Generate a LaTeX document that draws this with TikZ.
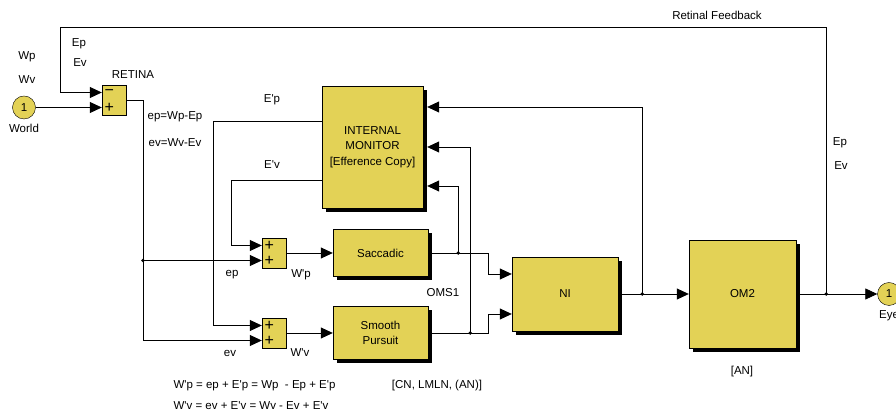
\documentclass[tikz,border=0pt]{standalone}
\usepackage{fontspec}
\setmainfont{Liberation Sans}[Ligatures=TeXOff]
\usepackage{xcolor}
\usetikzlibrary{arrows.meta, positioning, calc, shadows}
\definecolor{simyellow}{RGB}{227,210,86}

\begin{document}
\begin{tikzpicture}[
x=1pt, y=1pt,
font=\fontsize{11.5}{15.5}\selectfont,
block/.style={rectangle, draw, fill=simyellow, align=center, inner sep=0pt, drop shadow={fill=black, opacity=1, shadow xshift=4pt, shadow yshift=-4pt}},
sumblk/.style={rectangle, draw, fill=simyellow, minimum width=24pt, minimum height=30pt, inner sep=0pt},
port/.style={circle, draw, fill=simyellow, minimum size=23pt, inner sep=0pt},
sign/.style={inner sep=0pt, font=\fontsize{16}{16}\selectfont},
arrow/.style={-{Triangle[length=12pt, width=11pt]}, line width=0.8pt},
wire/.style={line width=0.8pt}
]
\useasboundingbox (0,0) rectangle (896,414);

\node[port] (world) at (24,306.5) {1};
\node[below=1pt of world] (worldlbl) {World};
\node[sumblk] (retina) at (114,314) {};
\node[sumblk] (sum1) at (274,161) {};
\node[sumblk] (sum2) at (274,81) {};

\node[block, minimum width=101pt, minimum height=122pt] (im) at (372.5,267) {INTERNAL\\MONITOR\\{[Efference Copy]}};
\node[block, minimum width=95pt, minimum height=47pt] (sacc) at (380.5,161) {Saccadic};
\node[block, minimum width=95pt, minimum height=53pt] (smooth) at (380.5,81) {Smooth\\Pursuit};
\node[block, minimum width=106pt, minimum height=74pt] (ni) at (565,120) {NI};
\node[block, minimum width=107pt, minimum height=108pt] (om2) at (742.5,120) {OM2};
\node[port] (eye) at (889,120) {1};
\node[below=1pt of eye] (eyelbl) {Eye};

\foreach \s/\t in {retina/−, sum1/+, sum2/+} {
  \coordinate (\s-a) at ($(\s.west)+(0,7.5)$);
  \coordinate (\s-b) at ($(\s.west)+(0,-7.5)$);
  \node[sign] (\s-at) at ($(\s-a)+(7.5,0)$) {\t};
  \node[sign] (\s-bt) at ($(\s-b)+(7.5,0)$) {+};
}
\coordinate (ni-a) at ($(ni.west)+(0,20)$);
\coordinate (ni-b) at ($(ni.west)+(0,-20)$);
\coordinate (retdot) at (143,153.5);
\coordinate (sdot) at ($(sacc.east)+(30,0)$);
\coordinate (pdot) at ($(smooth.east)+(42,0)$);
\coordinate (ndot) at ($(ni.east)+(24,0)$);
\coordinate (odot) at ($(om2.east)+(30,0)$);
\coordinate (fb) at (60,387);

\draw[arrow] (world) -- (retina-b);
\draw[wire] (retina.east) -| (retdot);
\draw[arrow] (retdot) -- (sum1-b);
\draw[arrow] (retdot) |- (sum2-b);
\draw[arrow] ([yshift=26pt]im.west) -| ([xshift=-48pt]sum2-a) |- (sum2-a);
\draw[arrow] ([yshift=-33pt]im.west) -| ([xshift=-30pt]sum1-a) |- (sum1-a);
\draw[arrow] (sum1) -- (sacc);
\draw[arrow] (sum2) -- (smooth);
\draw[arrow] (sacc.east) -- ++(60,0) |- (ni-a);
\draw[arrow] (smooth.east) -- ++(60,0) |- (ni-b);
\draw[arrow] (sdot) |- ([xshift=4pt,yshift=-39pt]im.east);
\draw[arrow] (pdot) |- ([xshift=4pt]im.east);
\draw[arrow] (ni) -- (om2);
\draw[arrow] (ndot) |- ([xshift=4pt,yshift=40pt]im.east);
\draw[arrow] (om2) -- (eye);
\draw[arrow] (odot) |- (fb) |- (retina-a);

\foreach \d in {retdot, sdot, pdot, ndot, odot}
  \fill (\d) circle (1.8pt);

\node (fblbl) at (717,399) {Retinal Feedback};
\node (wplbl) at (27,357) {Wp};
\node (wvlbl) at (27,334) {Wv};
\node (eplbl) at (79,370) {Ep};
\node (evlbl) at (80,351) {Ev};
\node (retlbl) at (133,339) {RETINA};
\node (eperr) at (175,297) {ep=Wp-Ep};
\node (everr) at (175,271) {ev=Wv-Ev};
\node (epclbl) at (272,314) {E'p};
\node (evclbl) at (272,249) {E'v};
\node (eplbl2) at (232,139) {ep};
\node (wpclbl) at (301,139) {W'p};
\node (evlbl2) at (230,61) {ev};
\node (wvclbl) at (300,61) {W'v};
\node (omslbl) at (443,121) {OMS1};
\node (eplbl3) at (840,271) {Ep};
\node (evlbl3) at (841,248) {Ev};
\node (anlbl) at (742,42) {[AN]};
\node (cnlbl) at (437,28) {[CN, LMLN, (AN)]};
\node[anchor=west] (eq1) at (170,28) {W'p = ep + E'p = Wp\ \ - Ep + E'p};
\node[anchor=west] (eq2) at (170,8) {W'v = ev + E'v = Wv - Ev + E'v};

\end{tikzpicture}
\end{document}
